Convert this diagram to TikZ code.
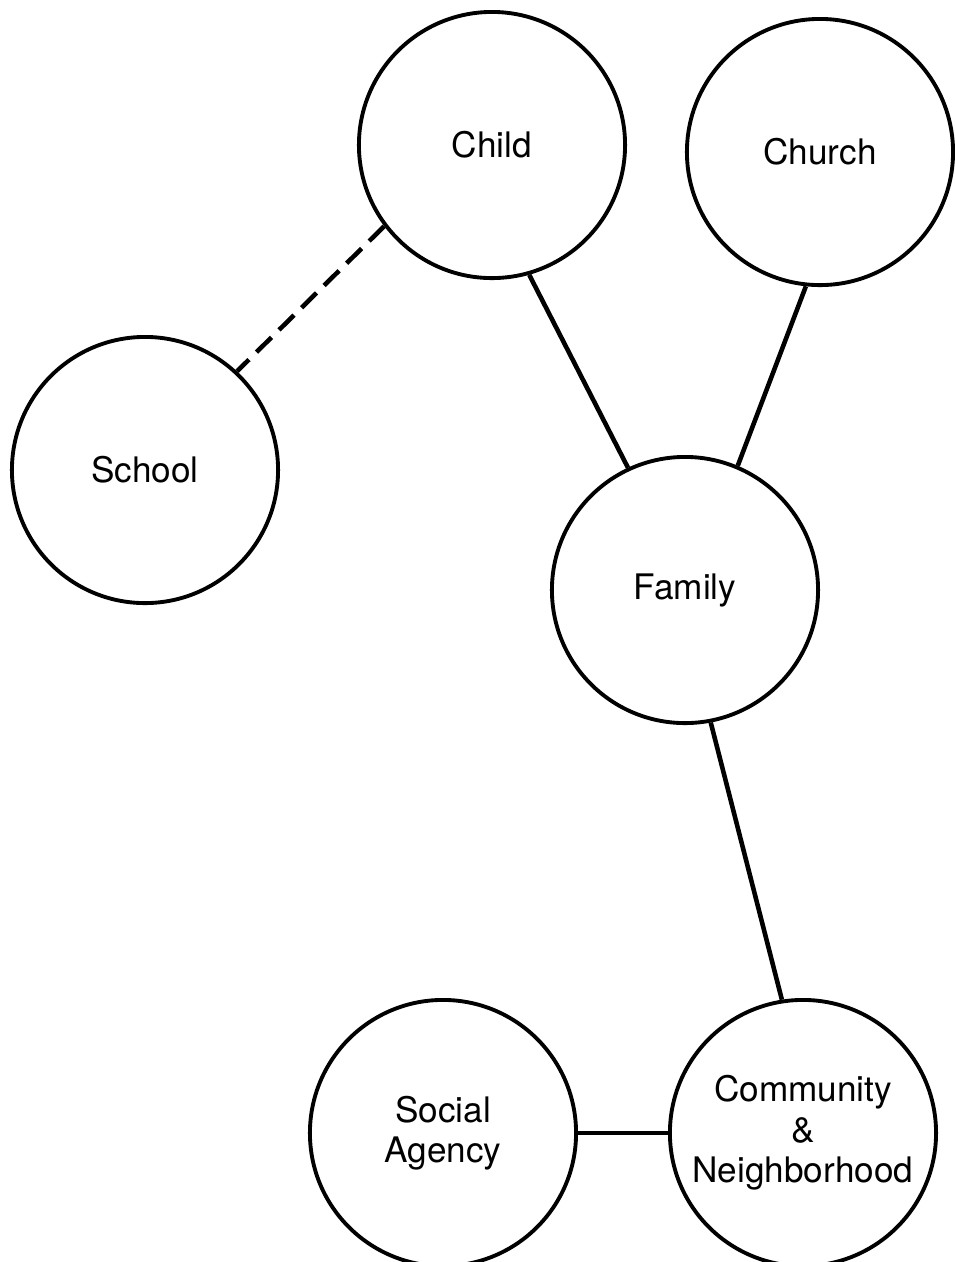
\documentclass[tikz,border=0pt]{standalone}
\usepackage{fontspec}
\setmainfont{TeX Gyre Heros}
\usepackage{tikz}
\usetikzlibrary{positioning}

\tikzset{
    sys/.style={draw, circle, line width=1.1pt, minimum size=2.66cm, inner sep=0pt,
        align=center, font=\fontsize{10}{11.5}\selectfont},
    link/.style={line width=1.3pt}
}

\begin{document}
\begin{tikzpicture}[x=0.01cm, y=-0.01cm]
    \useasboundingbox (0,0) rectangle (955,1262);

    % Systems
    \node[sys] (child)     at (492,145)  {Child};
    \node[sys] (church)    at (820,152)  {Church};
    \node[sys] (school)    at (145,470)  {School};
    \node[sys] (family)    at (685,590)  {Family};
    \node[sys] (social)    at (443,1133) {Social\\Agency};
    \node[sys] (community) at (803,1133) {Community\\\&\\Neighborhood};

    % Links
    \draw[link, dash pattern=on 6pt off 3pt] (child.217) -- (school.47);
    \draw[link] (child.-74) -- (family.115);
    \draw[link] (church.-96) -- (family.67);
    \draw[link] (family.-79) -- (community.99);
    \draw[link] (social.east) -- (community.west);
\end{tikzpicture}
\end{document}
